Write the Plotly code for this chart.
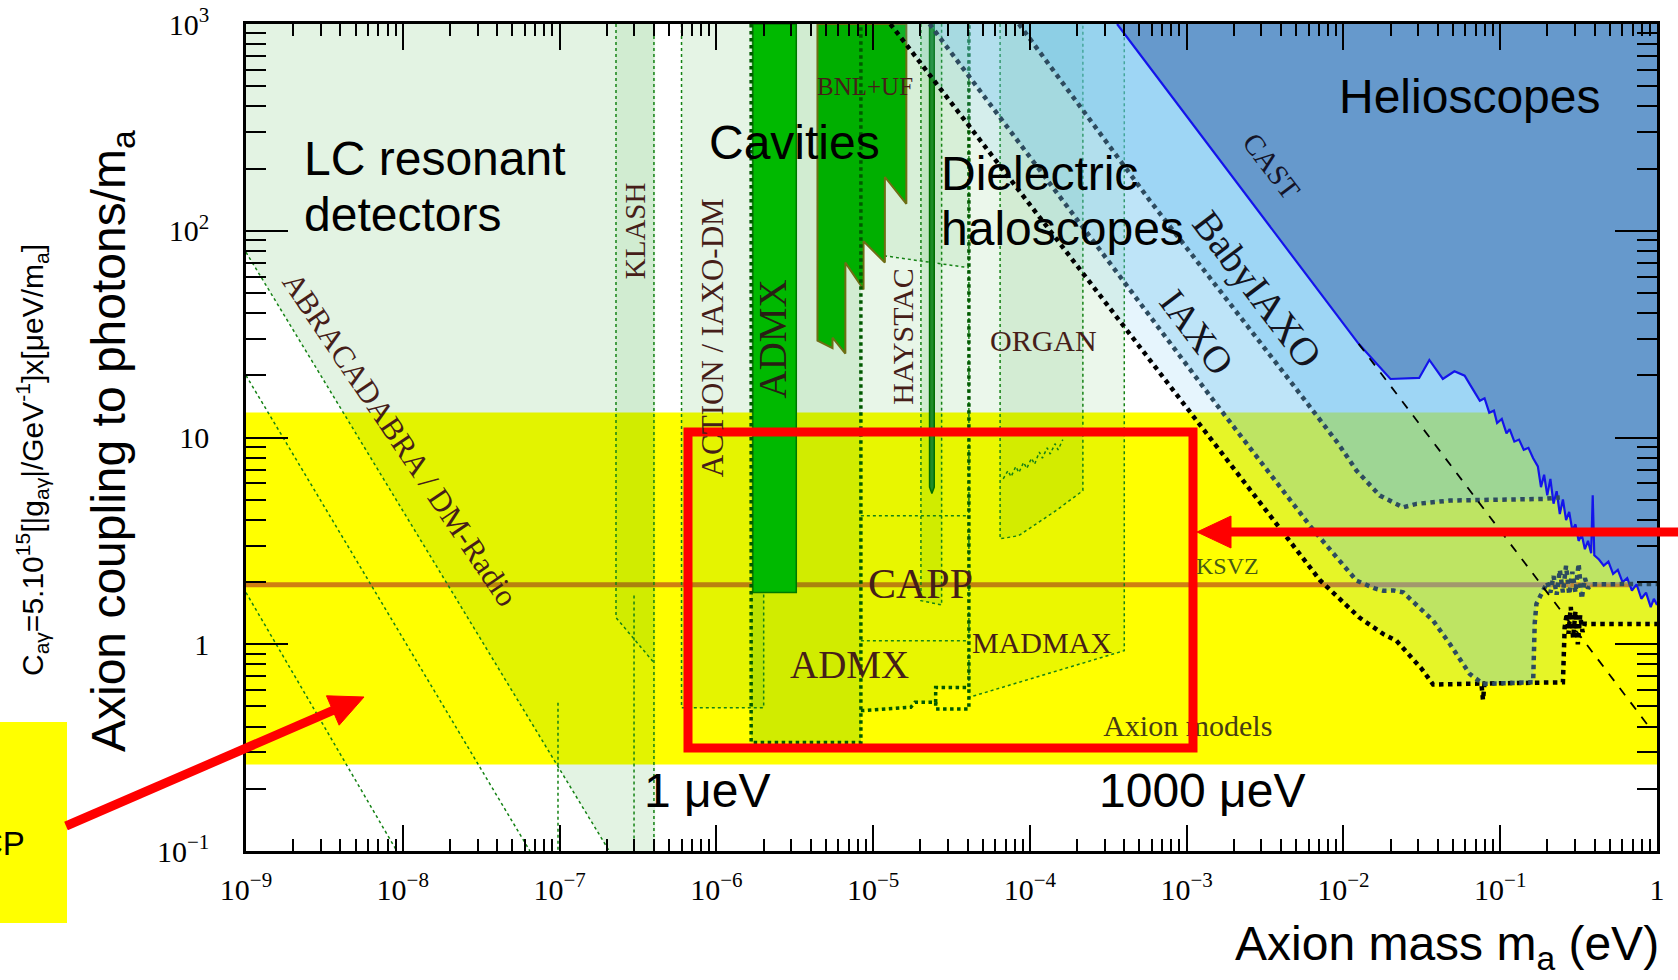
import math
import plotly.graph_objects as go

# ---------------- data (log10 axion mass [eV], log10 coupling C_ag) ----------------
band_logm = [-9, 0, 0, -9]
band_logc = [-0.582, -0.582, 1.121, 1.121]

ksvz_logm = [-9, 0]
ksvz_logc = [0.288, 0.288]

abra1_logm = [-9, -6.683]
abra1_logc = [1.896, -1]
abra2_logm = [-9, -7.189]
abra2_logc = [1.30, -1]
abra3_logm = [-9, -8.038]
abra3_logc = [0.25, -1]

lc_logm = [-9, -6.683, -6.39, -6.39, -9]
lc_logc = [1.896, -1, -1, 3, 3]

klash_logm = [-6.64, -6.64, -6.398, -6.398]
klash_logc = [3, 0.129, -0.089, 3]

extra1_logm = [-6.525, -6.525]
extra1_logc = [0.236, -1]
extra2_logm = [-7.01, -7.01]
extra2_logc = [-0.283, -1]
klash_right_logm = [-6.398, -6.398]
klash_right_logc = [3, -1]

action_logm = [-6.222, -6.222, -5.698, -5.698]
action_logc = [3, -0.307, -0.307, 3]

admxp_logm = [-5.778, -5.778, -5.078, -5.078]
admxp_logc = [3, -0.475, -0.475, 3]

admx_logm = [-5.767, -5.767, -5.49, -5.49]
admx_logc = [3, 0.25, 0.25, 3]

bnl_logm = [-4.788, -4.788, -4.925, -4.925, -5.061, -5.061, -5.177, -5.177,
            -5.259, -5.259, -5.355, -5.355]
bnl_logc = [3, 2.130, 2.260, 1.846, 1.949, 1.716, 1.846, 1.406,
            1.483, 1.432, 1.468, 3]

capp_logm = [-5.078, -5.078, -4.892, -4.76, -4.733, -4.601, -4.601, -4.389, -4.389]
capp_logc = [3, -0.321, -0.313, -0.305, -0.281, -0.281, -0.209, -0.209, 3]
capp_box_logm = [-4.601, -4.601, -4.389, -4.389]
capp_box_logc = [-0.281, -0.313, -0.313, -0.209]
capp_h1_logm = [-5.078, -4.389]
capp_h1_logc = [0.622, 0.622]
capp_h2_logm = [-5.078, -4.389]
capp_h2_logc = [0.017, 0.017]

hayp_logm = [-4.695, -4.695, -4.563, -4.563]
hayp_logc = [3, 0.211, 0.19, 3]

hay_logm = [-4.64, -4.64, -4.625, -4.61, -4.61]
hay_logc = [3, 0.76, 0.729, 0.76, 3]

quax_logm = [-4.93, -4.93, -4.389, -4.389]
quax_logc = [3, 1.879, 1.821, 3]

madmax_logm = [-4.389, -4.389, -3.398, -3.398]
madmax_logc = [3, -0.257, -0.031, 3]

organ_logm = [-4.19, -4.19, -4.072, -3.834, -3.662, -3.662]
organ_logc = [3, 0.510, 0.525, 0.646, 0.743, 3]

organ_zig_logm = [-4.17, -4.14, -4.12, -4.09, -4.07, -4.04, -4.02, -3.99, -3.97,
                  -3.94, -3.92, -3.89, -3.87, -3.84, -3.82, -3.79]
organ_zig_logc = [0.80, 0.84, 0.81, 0.86, 0.83, 0.88, 0.85, 0.90, 0.87,
                  0.93, 0.90, 0.95, 0.92, 0.97, 0.94, 0.99]

# helioscopes
iaxo_plus_logm = [-4.89, -3.10, -2.15, -1.90, -1.747, -1.662, -1.50, -1.428, -1.12,
                  -1.11, -1.10, -0.60, -0.589, -0.575, -0.565, -0.55, -0.535, -0.52,
                  -0.505, -0.49, -0.475, -0.46, -0.43, 0.0]
iaxo_plus_logc = [3.0, 1.24, 0.31, 0.13, 0.050, 0.017, -0.12, -0.195, -0.19,
                  -0.27, -0.19, -0.184, 0.082, 0.15, 0.05, 0.18, 0.03, 0.16,
                  0.0, 0.14, 0.06, 0.10, 0.098, 0.098]

iaxo_logm = [-4.64, -2.81, -2.2, -1.917, -1.80, -1.747, -1.68, -1.619, -1.52, -1.428,
             -1.321, -1.194, -1.109, -0.79, -0.78, -0.769, -0.727, -0.70, -0.68, -0.66,
             -0.64, -0.62, -0.60, -0.58, -0.56, -0.54, -0.52, -0.50, -0.48, -0.46,
             -0.44, -0.42, 0.0]
iaxo_logc = [3.0, 1.16, 0.56, 0.308, 0.27, 0.259, 0.26, 0.251, 0.18, 0.114,
             0.001, -0.144, -0.192, -0.184, 0.10, 0.195, 0.259, 0.30, 0.25, 0.33,
             0.24, 0.36, 0.25, 0.38, 0.24, 0.35, 0.25, 0.39, 0.22, 0.32,
             0.27, 0.29, 0.292]

baby_logm = [-4.07, -3.235, -2.342, -2.032, -1.917, -1.768, -1.619, -1.534, -1.321,
             -0.727, -0.62, 0.0]
baby_logc = [3.0, 2.146, 1.275, 0.969, 0.840, 0.719, 0.662, 0.679, 0.695,
             0.703, 0.71, 0.71]

cast_logm = [-3.444, -1.903, -1.700, -1.517, -1.452, -1.366, -1.292, -1.227, -1.18,
             -1.13, -1.10, -1.07, -1.04, -1.02, -0.99, -0.96, -0.94, -0.91, -0.88,
             -0.85, -0.82, -0.79, -0.76, -0.74, -0.72, -0.70, -0.68, -0.66, -0.64,
             -0.62, -0.60, -0.58, -0.56, -0.54, -0.52, -0.50, -0.48, -0.46, -0.44,
             -0.42, -0.41, -0.40, -0.37, -0.34, -0.31, -0.28, -0.25, -0.22, -0.19,
             -0.16, -0.13, -0.10, -0.07, -0.04, -0.02, 0.0]
cast_logc = [3.0, 1.453, 1.283, 1.288, 1.375, 1.283, 1.320, 1.299, 1.24,
             1.178, 1.19, 1.12, 1.13, 1.07, 1.09, 1.02, 1.04, 0.98, 0.99,
             0.94, 0.95, 0.90, 0.86, 0.76, 0.82, 0.72, 0.80, 0.68, 0.74,
             0.63, 0.70, 0.60, 0.64, 0.55, 0.58, 0.50, 0.53, 0.46, 0.50,
             0.44, 0.72, 0.43, 0.41, 0.38, 0.40, 0.34, 0.36, 0.30, 0.32,
             0.26, 0.29, 0.22, 0.25, 0.18, 0.22, 0.19]

dashed_logm = [-1.903, -0.03]
dashed_logc = [1.453, -0.42]

xtick_vals = [1e-9, 1e-8, 1e-7, 1e-6, 1e-5, 1e-4, 1e-3, 1e-2, 1e-1, 1]
xtick_text = ["10<sup>−9</sup>", "10<sup>−8</sup>", "10<sup>−7</sup>", "10<sup>−6</sup>",
              "10<sup>−5</sup>", "10<sup>−4</sup>", "10<sup>−3</sup>", "10<sup>−2</sup>",
              "10<sup>−1</sup>", "1"]
ytick_vals = [0.1, 1, 10, 100, 1000]
ytick_text = ["10<sup>−1</sup>", "1", "10", "10<sup>2</sup>", "10<sup>3</sup>"]

# ---------------- figure ----------------
def L(v):
    return [10 ** a for a in v]

fig = go.Figure()

def poly(lm, lc, fill, lcolor=None, width=0, dash=None):
    fig.add_trace(go.Scatter(
        x=L(lm + lm[:1]), y=L(lc + lc[:1]), mode='lines', fill='toself', fillcolor=fill,
        line=dict(color=lcolor if lcolor else 'rgba(0,0,0,0)', width=width, dash=dash),
        hoverinfo='skip', showlegend=False))

def line(lm, lc, color, width, dash=None, opacity=1.0):
    fig.add_trace(go.Scatter(
        x=L(lm), y=L(lc), mode='lines', opacity=opacity,
        line=dict(color=color, width=width, dash=dash),
        hoverinfo='skip', showlegend=False))

G = 'rgba(0,150,0,{})'
GL = 'rgb(20,130,20)'
GD = 'rgb(0,90,0)'

# yellow axion-model band
poly(band_logm, band_logc, 'rgb(255,255,0)')
# KSVZ
line(ksvz_logm, ksvz_logc, 'rgb(200,105,20)', 5, opacity=0.85)

# haloscope / LC regions
poly(lc_logm, lc_logc, G.format(0.11))
poly(klash_logm, klash_logc, G.format(0.08))
poly(action_logm, action_logc, G.format(0.10))
poly(admxp_logm, admxp_logc, G.format(0.18))
poly(capp_logm, capp_logc, G.format(0.09))
poly(hayp_logm, hayp_logc, G.format(0.10))
poly(quax_logm, quax_logc, G.format(0.07))
poly(madmax_logm, madmax_logc, G.format(0.08))
poly(organ_logm, organ_logc, G.format(0.10))

# thin dotted boundaries
for lm, lc in [(abra1_logm, abra1_logc), (abra2_logm, abra2_logc), (abra3_logm, abra3_logc),
               (klash_logm[:3], klash_logc[:3]), (klash_right_logm, klash_right_logc),
               (extra1_logm, extra1_logc), (extra2_logm, extra2_logc),
               (action_logm, action_logc), (capp_h1_logm, capp_h1_logc),
               (capp_h2_logm, capp_h2_logc), (hayp_logm, hayp_logc),
               (quax_logm[1:3], quax_logc[1:3]), (madmax_logm, madmax_logc),
               (organ_logm, organ_logc), (organ_zig_logm, organ_zig_logc)]:
    line(lm, lc, GL, 1.5, 'dot')

# solid bars
poly(admx_logm, admx_logc, 'rgb(0,185,0)', 'rgb(0,120,0)', 1.5)
poly(bnl_logm, bnl_logc, 'rgb(0,175,0)', 'rgb(110,110,20)', 2)
poly(hay_logm, hay_logc, 'rgb(30,140,40)', 'rgb(0,110,0)', 1.5)

# thick dotted projections
line(admxp_logm, admxp_logc, GD, 3.5, 'dot')
line(capp_logm[1:], capp_logc[1:], GD, 3.5, 'dot')
line(capp_box_logm, capp_box_logc, GD, 3.5, 'dot')

# helioscope regions
B = 'rgba(100,190,240,{})'
poly(iaxo_plus_logm + [0.0], iaxo_plus_logc + [3.0], B.format(0.16))
poly(iaxo_logm + [0.0], iaxo_logc + [3.0], B.format(0.30))
poly(baby_logm + [0.0], baby_logc + [3.0], B.format(0.35))
poly(cast_logm + [0.0], cast_logc + [3.0], 'rgb(102,153,204)')
line(cast_logm, cast_logc, 'rgb(20,20,235)', 2.2)

line(iaxo_plus_logm, iaxo_plus_logc, 'black', 4.5, 'dot')
line(iaxo_logm, iaxo_logc, 'rgb(45,75,95)', 4.5, 'dot')
line(baby_logm[:11], baby_logc[:11], 'rgb(45,75,95)', 4.5, 'dot')
line(dashed_logm, dashed_logc, 'black', 1.8, 'dash')

SERIF = 'Liberation Serif'
SANS = 'Liberation Sans'
BROWN = 'rgb(70,30,25)'
BIG = 48

fig.add_trace(go.Scatter(x=[10 ** -2.993], y=[10 ** -0.407], mode='text',
                         text=['Axion models'],
                         textfont=dict(family=SERIF, size=30, color='rgb(70,60,20)'),
                         hoverinfo='skip', showlegend=False))

ann = []

def txt(lx, ly, s, size, family=SANS, color='black', angle=0, xanchor='center'):
    ann.append(dict(x=lx, y=ly, xref='x', yref='y', text=s, showarrow=False,
                    textangle=angle, xanchor=xanchor, yanchor='middle',
                    font=dict(family=family, size=size, color=color)))

txt(-8.643, 2.349, 'LC resonant', BIG, xanchor='left')
txt(-8.643, 2.078, 'detectors', BIG, xanchor='left')
txt(-5.499, 2.427, 'Cavities', BIG)
txt(-4.580, 2.277, 'Dielectric', BIG, xanchor='left')
txt(-4.580, 2.011, 'haloscopes', BIG, xanchor='left')
txt(-1.194, 2.649, 'Helioscopes', BIG)
txt(-6.06, -0.708, '1 μeV', BIG)
txt(-2.903, -0.708, '1000 μeV', BIG)

txt(-8.016, 0.991, 'ABRACADABRA / DM-Radio', 31, SERIF, BROWN, 56)
txt(-6.522, 2.0, 'KLASH', 29, SERIF, BROWN, -90)
txt(-6.023, 1.483, 'ACTION / IAXO-DM', 31, SERIF, BROWN, -90)
txt(-5.641, 1.477, 'ADMX', 39, SERIF, 'rgb(40,30,20)', -90)
txt(-5.054, 2.700, 'BNL+UF', 25, SERIF, BROWN)
txt(-4.815, 1.488, 'HAYSTAC', 30, SERIF, BROWN, -90)
txt(-3.914, 1.467, 'ORGAN', 30, SERIF, BROWN)
txt(-4.700, 0.292, 'CAPP', 42, SERIF, BROWN)
txt(-5.150, -0.096, 'ADMX', 39, SERIF, BROWN)
txt(-3.921, 0.007, 'MADMAX', 30, SERIF, BROWN)
txt(-2.740, 0.380, 'KSVZ', 24, SERIF, 'rgb(70,90,20)')
txt(-2.460, 2.311, 'CAST', 29, SERIF, 'rgb(20,20,40)', 52.8)
txt(-2.549, 1.716, 'BabyIAXO', 40, SERIF, 'rgb(20,20,30)', 52.8)
txt(-2.938, 1.508, 'IAXO', 38, SERIF, 'rgb(20,20,30)', 52.8)

# paper-pixel helper for decorations outside the data
PL, PT, PW, PH = 246, 24, 1411, 827

def pp(X, Y):
    return ((X - PL) / PW, (PT + PH - Y) / PH)

def paper_text(X, Y, s, size, angle=0, xanchor='center'):
    x0, y0 = pp(X, Y)
    ann.append(dict(x=x0, y=y0, xref='paper', yref='paper', showarrow=False,
                    textangle=angle, xanchor=xanchor, yanchor='middle', text=s,
                    font=dict(family=SANS, size=size, color='black')))

paper_text(112, 441, 'Axion coupling to photons/m<sub>a</sub>', BIG, -90)
paper_text(32, 460, 'C<sub>aγ</sub>=5.10<sup>15</sup>[|g<sub>aγ</sub>|/GeV<sup>-1</sup>]x[μeV/m<sub>a</sub>]',
           30, -90)
paper_text(1661, 947, 'Axion mass m<sub>a</sub> (eV)', BIG, 0, 'right')
paper_text(27, 843, 'CP', 33, 0, 'right')

shapes = []
# yellow box on left
a, b = pp(0, 722)
c, d = pp(67, 923)
shapes.append(dict(type='rect', xref='paper', yref='paper', x0=a, y0=b, x1=c, y1=d,
                   fillcolor='rgb(255,255,0)', line=dict(width=0), layer='below'))
# red rectangle
a, b = pp(688, 432)
c, d = pp(1193, 748)
shapes.append(dict(type='rect', xref='paper', yref='paper', x0=a, y0=b, x1=c, y1=d,
                   line=dict(color='rgb(255,0,0)', width=9), layer='above'))

def arrow(X0, Y0, X1, Y1, head=34, half=16, width=9):
    dx, dy = X1 - X0, Y1 - Y0
    n = math.hypot(dx, dy)
    ux, uy = dx / n, dy / n
    bx, by = X1 - head * ux, Y1 - head * uy
    sx, sy = X1 - (head - 4) * ux, Y1 - (head - 4) * uy
    p0 = pp(X0, Y0)
    p1 = pp(sx, sy)
    shapes.append(dict(type='line', xref='paper', yref='paper', x0=p0[0], y0=p0[1],
                       x1=p1[0], y1=p1[1], line=dict(color='rgb(255,0,0)', width=width),
                       layer='above'))
    t = pp(X1, Y1)
    c1 = pp(bx - half * uy, by + half * ux)
    c2 = pp(bx + half * uy, by - half * ux)
    path = 'M {} {} L {} {} L {} {} Z'.format(t[0], t[1], c1[0], c1[1], c2[0], c2[1])
    shapes.append(dict(type='path', xref='paper', yref='paper', path=path,
                       fillcolor='rgb(255,0,0)', line=dict(color='rgb(255,0,0)', width=1),
                       layer='above'))

arrow(1690, 532, 1197, 532)
arrow(66, 826, 364, 697)

axis_common = dict(type='log', showline=True, linewidth=2.5, linecolor='black', mirror='ticks',
                   ticks='inside', tickcolor='black', tickwidth=2, showgrid=False, zeroline=False,
                   automargin=False,
                   tickfont=dict(family=SERIF, size=30, color='black'),
                   minor=dict(ticks='inside', tickcolor='black', tickwidth=1.5, dtick='D1',
                              showgrid=False))

fig.update_xaxes(**axis_common, range=[-9, 0], tickmode='array', tickvals=xtick_vals,
                 ticktext=xtick_text, ticklen=26, ticklabelstandoff=10)
fig.update_xaxes(minor_ticklen=12)
fig.update_yaxes(**axis_common, range=[-1, 3], tickmode='array', tickvals=ytick_vals,
                 ticktext=ytick_text, ticklen=42, ticklabelstandoff=28)
fig.update_yaxes(minor_ticklen=20)

fig.update_layout(width=1678, height=980,
                  margin=dict(l=PL, r=1678 - PL - PW, t=PT, b=980 - PT - PH, autoexpand=False),
                  paper_bgcolor='white', plot_bgcolor='white', showlegend=False,
                  annotations=ann, shapes=shapes)

fig.write_html('out.html', config={'displayModeBar': False},
               post_script="document.body.style.margin='0px';document.body.style.overflow='hidden';")
